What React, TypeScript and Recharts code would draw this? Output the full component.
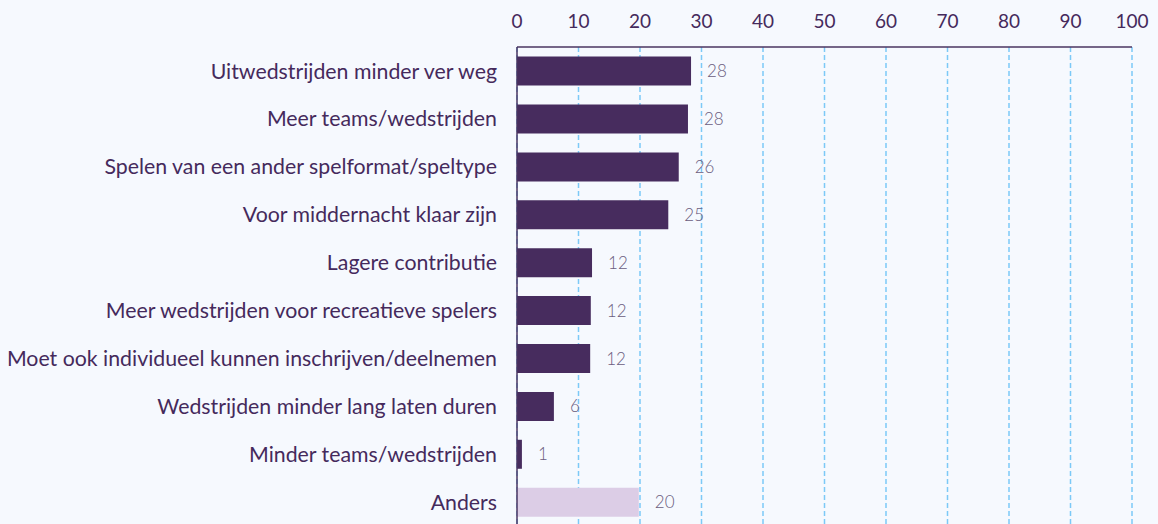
import { BarChart, Bar, XAxis, YAxis, CartesianGrid, LabelList, Cell } from 'recharts'

const categories = [
  'Uitwedstrijden minder ver weg',
  'Meer teams/wedstrijden',
  'Spelen van een ander spelformat/speltype',
  'Voor middernacht klaar zijn',
  'Lagere contributie',
  'Meer wedstrijden voor recreatieve spelers',
  'Moet ook individueel kunnen inschrijven/deelnemen',
  'Wedstrijden minder lang laten duren',
  'Minder teams/wedstrijden',
  'Anders',
]

const percentages = [28.3, 27.8, 26.3, 24.6, 12.2, 12.0, 11.9, 6.0, 0.8, 19.8]

const xTicks = [0, 10, 20, 30, 40, 50, 60, 70, 80, 90, 100]

const data = categories.map((name, i) => ({ name, value: percentages[i] }))

const dark = '#472c5e'
const light = '#dccde6'

export default function App() {
  return (
    <div
      style={{
        position: 'fixed',
        top: 0,
        left: 0,
        width: 1158,
        height: 524,
        overflow: 'hidden',
        background: '#f6f9fe',
        fontFamily: 'Lato, sans-serif',
      }}
    >
      <BarChart
        width={1158}
        height={526}
        data={data}
        layout="vertical"
        margin={{ top: 8, right: 26, left: 8, bottom: 0 }}
        barCategoryGap="20%"
      >
        <CartesianGrid
          horizontal={false}
          stroke="#7cc9f7"
          strokeDasharray="5 3"
          strokeWidth={1.5}
        />
        <XAxis
          type="number"
          orientation="top"
          domain={[0, 100]}
          ticks={xTicks}
          height={39}
          tickLine={false}
          tickMargin={13}
          axisLine={{ stroke: '#4a3560', strokeWidth: 1.5 }}
          tick={{ fill: '#452a5c', fontSize: 19 }}
        />
        <YAxis
          type="category"
          dataKey="name"
          width={509}
          tickLine={false}
          tickMargin={14}
          axisLine={{ stroke: '#4a3560', strokeWidth: 1.5 }}
          tick={{ fill: '#452a5c', fontSize: 21.3 }}
        />
        <Bar dataKey="value" isAnimationActive={false}>
          {data.map((d, i) => (
            <Cell key={d.name} fill={i === data.length - 1 ? light : dark} />
          ))}
          <LabelList
            dataKey="value"
            position="right"
            offset={16}
            fill="#6b5d80"
            fontSize={17}
            fontWeight={300}
            formatter={(v: number) => Math.round(v)}
          />
        </Bar>
      </BarChart>
    </div>
  )
}
